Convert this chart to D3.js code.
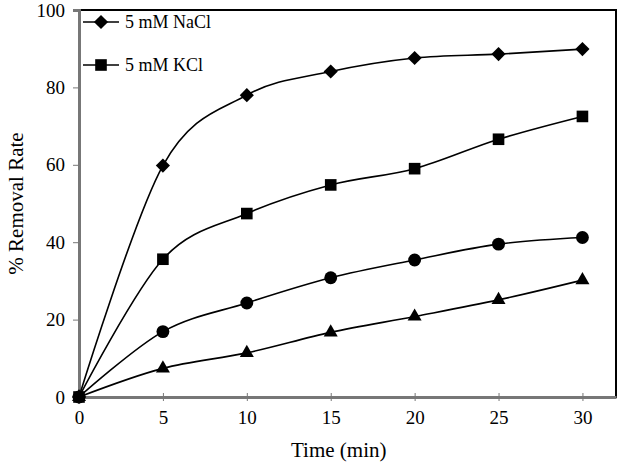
<!DOCTYPE html>
<html>
<head>
<meta charset="utf-8">
<script src="https://cdn.jsdelivr.net/npm/d3@7"></script>
<style>
  body { margin: 0; background: #fff; }
</style>
</head>
<body>
<div id="chart"></div>
<script>
// Data
const times = [0, 5, 10, 15, 20, 25, 30];
const nacl = [0, 59.8, 78.0, 84.1, 87.6, 88.6, 89.9];
const kcl = [0, 35.6, 47.4, 54.8, 59.0, 66.6, 72.5];
const circleSeries = [0, 16.9, 24.3, 30.8, 35.4, 39.5, 41.2];
const triangleSeries = [0, 7.4, 11.4, 16.7, 20.8, 25.1, 30.2];
const xTicks = [0, 5, 10, 15, 20, 25, 30];
const yTicks = [0, 20, 40, 60, 80, 100];

const serif = "'Liberation Serif', 'Times New Roman', 'DejaVu Serif', serif";

// diamond = square turned 45 degrees
const series = [
  { name: "5 mM NaCl", values: nacl, symbol: d3.symbolSquare, size: 100, rotate: 45, legend: true },
  { name: "5 mM KCl", values: kcl, symbol: d3.symbolSquare, size: 135, rotate: 0, legend: true },
  { name: "circle", values: circleSeries, symbol: d3.symbolCircle, size: 130, rotate: 0, legend: false },
  { name: "triangle", values: triangleSeries, symbol: d3.symbolTriangle, size: 85, rotate: 0, legend: false }
];

const width = 622, height = 462;
const margin = { top: 10, right: 6, bottom: 65, left: 79 };
const w = width - margin.left - margin.right;
const h = height - margin.top - margin.bottom;

const svg = d3.select("#chart").append("svg")
  .attr("width", width)
  .attr("height", height);

const g = svg.append("g")
  .attr("transform", `translate(${margin.left},${margin.top})`);

const x = d3.scaleLinear().domain([0, 32]).range([0, w]);
const y = d3.scaleLinear().domain([0, 100]).range([h, 0]);

// plot box
g.append("rect")
  .attr("width", w).attr("height", h)
  .attr("fill", "none").attr("stroke", "#000").attr("stroke-width", 2);

// y axis
const yAxis = g.append("g")
  .call(d3.axisLeft(y).tickValues(yTicks).tickSize(6).tickPadding(8));
yAxis.select(".domain").attr("stroke", "#777").attr("stroke-width", 3);
yAxis.selectAll(".tick line").attr("stroke", "#777");
yAxis.selectAll("text").style("font-family", serif).style("font-size", "19px");

// x axis, ticks cross the line
const xAxis = g.append("g")
  .attr("transform", `translate(0,${h})`)
  .call(d3.axisBottom(x).tickValues(xTicks).tickSizeInner(4).tickSizeOuter(0).tickPadding(10));
xAxis.select(".domain").attr("stroke", "#777").attr("stroke-width", 3);
xAxis.selectAll(".tick line").attr("stroke", "#777").attr("y1", -4);
xAxis.selectAll("text").style("font-family", serif).style("font-size", "19px");

// axis titles
svg.append("text")
  .attr("transform", `translate(23,${margin.top + h / 2}) rotate(-90)`)
  .attr("text-anchor", "middle")
  .style("font-family", serif)
  .style("font-size", "21px")
  .text("% Removal Rate");

svg.append("text")
  .attr("x", margin.left + x(15) + 8)
  .attr("y", 457)
  .attr("text-anchor", "middle")
  .style("font-family", serif)
  .style("font-size", "21px")
  .text("Time (min)");

// lines
const line = d3.line()
  .x((d, i) => x(times[i]))
  .y(d => y(d))
  .curve(d3.curveCatmullRom.alpha(0));

series.forEach(s => {
  g.append("path")
    .datum(s.values)
    .attr("d", line)
    .attr("fill", "none")
    .attr("stroke", "#000")
    .attr("stroke-width", 1.6);

  g.selectAll(null)
    .data(s.values)
    .enter()
    .append("path")
    .attr("d", d3.symbol().type(s.symbol).size(s.size))
    .attr("transform", (d, i) => `translate(${x(times[i])},${y(d)}) rotate(${s.rotate})`)
    .attr("fill", "#000");
});

// legend
const legend = g.append("g").attr("transform", "translate(4,0)");
series.filter(s => s.legend).forEach((s, i) => {
  const ly = 12 + i * 43;
  legend.append("line")
    .attr("x1", 0).attr("x2", 36).attr("y1", ly).attr("y2", ly)
    .attr("stroke", "#000").attr("stroke-width", 1.6);
  legend.append("path")
    .attr("d", d3.symbol().type(s.symbol).size(s.size))
    .attr("transform", `translate(18,${ly}) rotate(${s.rotate})`)
    .attr("fill", "#000");
  legend.append("text")
    .attr("x", 42).attr("y", ly + 6)
    .style("font-family", serif)
    .style("font-size", "18px")
    .text(s.name);
});
</script>
</body>
</html>
